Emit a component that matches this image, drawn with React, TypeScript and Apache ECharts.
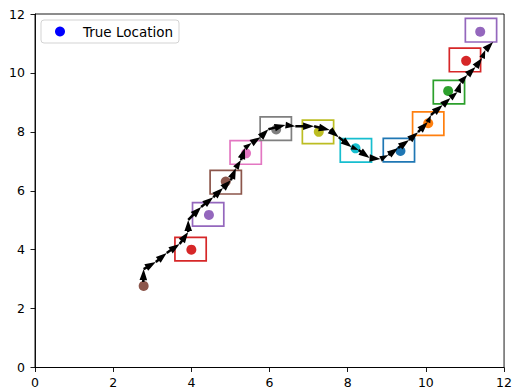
import React, { useEffect, useRef } from "react";
import * as echarts from "echarts";

// True locations (dots)
const trueX = [2.78, 4.0, 4.45, 4.88, 5.4, 6.17, 7.26, 8.2, 9.35, 10.06, 10.57, 11.03, 11.39];
const trueY = [2.77, 4.0, 5.18, 6.31, 7.27, 8.08, 8.0, 7.44, 7.35, 8.29, 9.39, 10.41, 11.4];
const dotColors = [
  "#8c564b", "#d62728", "#9467bd", "#8c564b", "#e377c2", "#7f7f7f", "#bcbd22",
  "#17becf", "#1f77b4", "#ff7f0e", "#2ca02c", "#d62728", "#9467bd",
];

// Measurement boxes (centers)
const boxX = [3.98, 4.43, 4.88, 5.39, 6.16, 7.24, 8.21, 9.31, 10.06, 10.59, 11.0, 11.41];
const boxY = [4.02, 5.2, 6.29, 7.3, 8.11, 8.0, 7.37, 7.38, 8.28, 9.35, 10.44, 11.45];
const boxColors = [
  "#d62728", "#9467bd", "#8c564b", "#e377c2", "#7f7f7f", "#bcbd22",
  "#17becf", "#1f77b4", "#ff7f0e", "#2ca02c", "#d62728", "#9467bd",
];
const boxHalf = 0.4;

// Estimated trajectory (arrows go from each point to the next)
const pathX = [
  2.77, 2.78, 3.09, 3.37, 3.7, 3.92, 3.92, 4.25, 4.56, 4.81, 5.01, 5.14, 5.27, 5.37,
  5.54, 5.77, 5.97, 6.41, 6.66, 7.14, 7.54, 7.77, 8.1, 8.28, 8.56, 8.84, 9.04, 9.29,
  9.57, 9.8, 10.05, 10.13, 10.43, 10.63, 10.81, 10.89, 11.06, 11.27, 11.44, 11.52, 11.72,
];
const pathY = [
  2.9, 3.34, 3.58, 3.89, 4.19, 4.6, 5.01, 5.45, 5.78, 6.09, 6.36, 6.77, 7.04, 7.45,
  7.62, 7.82, 8.09, 8.23, 8.19, 8.19, 8.06, 7.82, 7.48, 7.38, 7.11, 7.08, 7.21, 7.45,
  7.72, 7.99, 8.33, 8.57, 8.91, 9.15, 9.35, 9.69, 9.93, 10.2, 10.51, 10.78, 11.05,
];

const xTicks = [0, 2, 4, 6, 8, 10, 12];
const yTicks = [0, 2, 4, 6, 8, 10, 12];
const legendLabel = "True Location";
const legendColor = "#0000ff";

const FONT = "DejaVu Sans";

export default function App() {
  const ref = useRef<HTMLDivElement>(null);

  useEffect(() => {
    if (!ref.current) return;
    const chart = echarts.init(ref.current, undefined, { renderer: "svg" });

    const arrowData = pathX.slice(0, -1).map((x, i) => [x, pathY[i], pathX[i + 1], pathY[i + 1]]);

    const option: any = {
      animation: false,
      backgroundColor: "#ffffff",
      grid: {
        left: 35,
        top: 14,
        width: 474,
        height: 353.5,
        show: true,
        borderColor: "#000",
        borderWidth: 0.9,
        backgroundColor: "transparent",
      },
      xAxis: {
        type: "value",
        min: xTicks[0],
        max: xTicks[xTicks.length - 1],
        interval: 2,
        axisLine: { show: true, lineStyle: { color: "#000", width: 0.9 } },
        axisTick: { show: true, length: 4.5, lineStyle: { color: "#000", width: 0.9 } },
        splitLine: { show: false },
        axisLabel: { color: "#000", fontSize: 12.5, fontFamily: FONT, margin: 8 },
      },
      yAxis: {
        type: "value",
        min: yTicks[0],
        max: yTicks[yTicks.length - 1],
        interval: 2,
        axisLine: { show: true, lineStyle: { color: "#000", width: 0.9 } },
        axisTick: { show: true, length: 4.5, lineStyle: { color: "#000", width: 0.9 } },
        splitLine: { show: false },
        axisLabel: { color: "#000", fontSize: 12.5, fontFamily: FONT, margin: 10 },
      },
      series: [
        {
          type: "custom",
          name: "boxes",
          z: 2,
          data: boxX.map((x, i) => [x, boxY[i], i]),
          encode: { x: 0, y: 1 },
          renderItem: (params: any, api: any) => {
            const cx = api.value(0);
            const cy = api.value(1);
            const idx = api.value(2);
            const p1 = api.coord([cx - boxHalf, cy + boxHalf]);
            const p2 = api.coord([cx + boxHalf, cy - boxHalf]);
            return {
              type: "rect",
              shape: { x: p1[0], y: p1[1], width: p2[0] - p1[0], height: p2[1] - p1[1] },
              style: { fill: "none", stroke: boxColors[idx], lineWidth: 1.7 },
            };
          },
        },
        {
          type: "scatter",
          name: "True Location",
          z: 3,
          symbol: "circle",
          symbolSize: 10,
          itemStyle: { opacity: 1 },
          data: trueX.map((x, i) => ({
            value: [x, trueY[i]],
            itemStyle: { color: dotColors[i], opacity: 1 },
          })),
        },
        {
          type: "custom",
          name: "arrows",
          z: 4,
          data: arrowData,
          encode: { x: [0, 2], y: [1, 3] },
          renderItem: (params: any, api: any) => {
            const a = api.coord([api.value(0), api.value(1)]);
            const b = api.coord([api.value(2), api.value(3)]);
            const dx = b[0] - a[0];
            const dy = b[1] - a[1];
            const L = Math.sqrt(dx * dx + dy * dy) || 1;
            const ux = dx / L;
            const uy = dy / L;
            const nx = -uy;
            const ny = ux;
            let w = 1.25;
            let hl = 11;
            let hw = 3.8;
            if (L < hl) {
              const s = L / hl;
              w *= s;
              hl *= s;
              hw *= s;
            }
            const bx = a[0] + ux * (L - hl);
            const by = a[1] + uy * (L - hl);
            const pts = [
              [a[0] + nx * w, a[1] + ny * w],
              [bx + nx * w, by + ny * w],
              [bx + nx * hw, by + ny * hw],
              [b[0], b[1]],
              [bx - nx * hw, by - ny * hw],
              [bx - nx * w, by - ny * w],
              [a[0] - nx * w, a[1] - ny * w],
            ];
            return {
              type: "polygon",
              shape: { points: pts },
              style: { fill: "#000", stroke: "none" },
            };
          },
        },
      ],
      graphic: [
        {
          type: "group",
          z: 100,
          children: [
            {
              type: "rect",
              shape: { x: 41, y: 20, width: 138, height: 23, r: 3 },
              style: { fill: "rgba(255,255,255,0.8)", stroke: "#d3d3d3", lineWidth: 1 },
            },
            {
              type: "circle",
              shape: { cx: 60, cy: 31.5, r: 5 },
              style: { fill: legendColor },
            },
            {
              type: "text",
              x: 83,
              y: 31.5,
              style: {
                text: legendLabel,
                fontSize: 13.5,
                fontFamily: FONT,
                fill: "#000",
                verticalAlign: "middle",
                align: "left",
              },
            },
          ],
        },
      ],
    };

    chart.setOption(option);
    return () => chart.dispose();
  }, []);

  return (
    <div
      ref={ref}
      style={{ position: "fixed", left: 0, top: 0, width: 515, height: 389, background: "#fff" }}
    />
  );
}
